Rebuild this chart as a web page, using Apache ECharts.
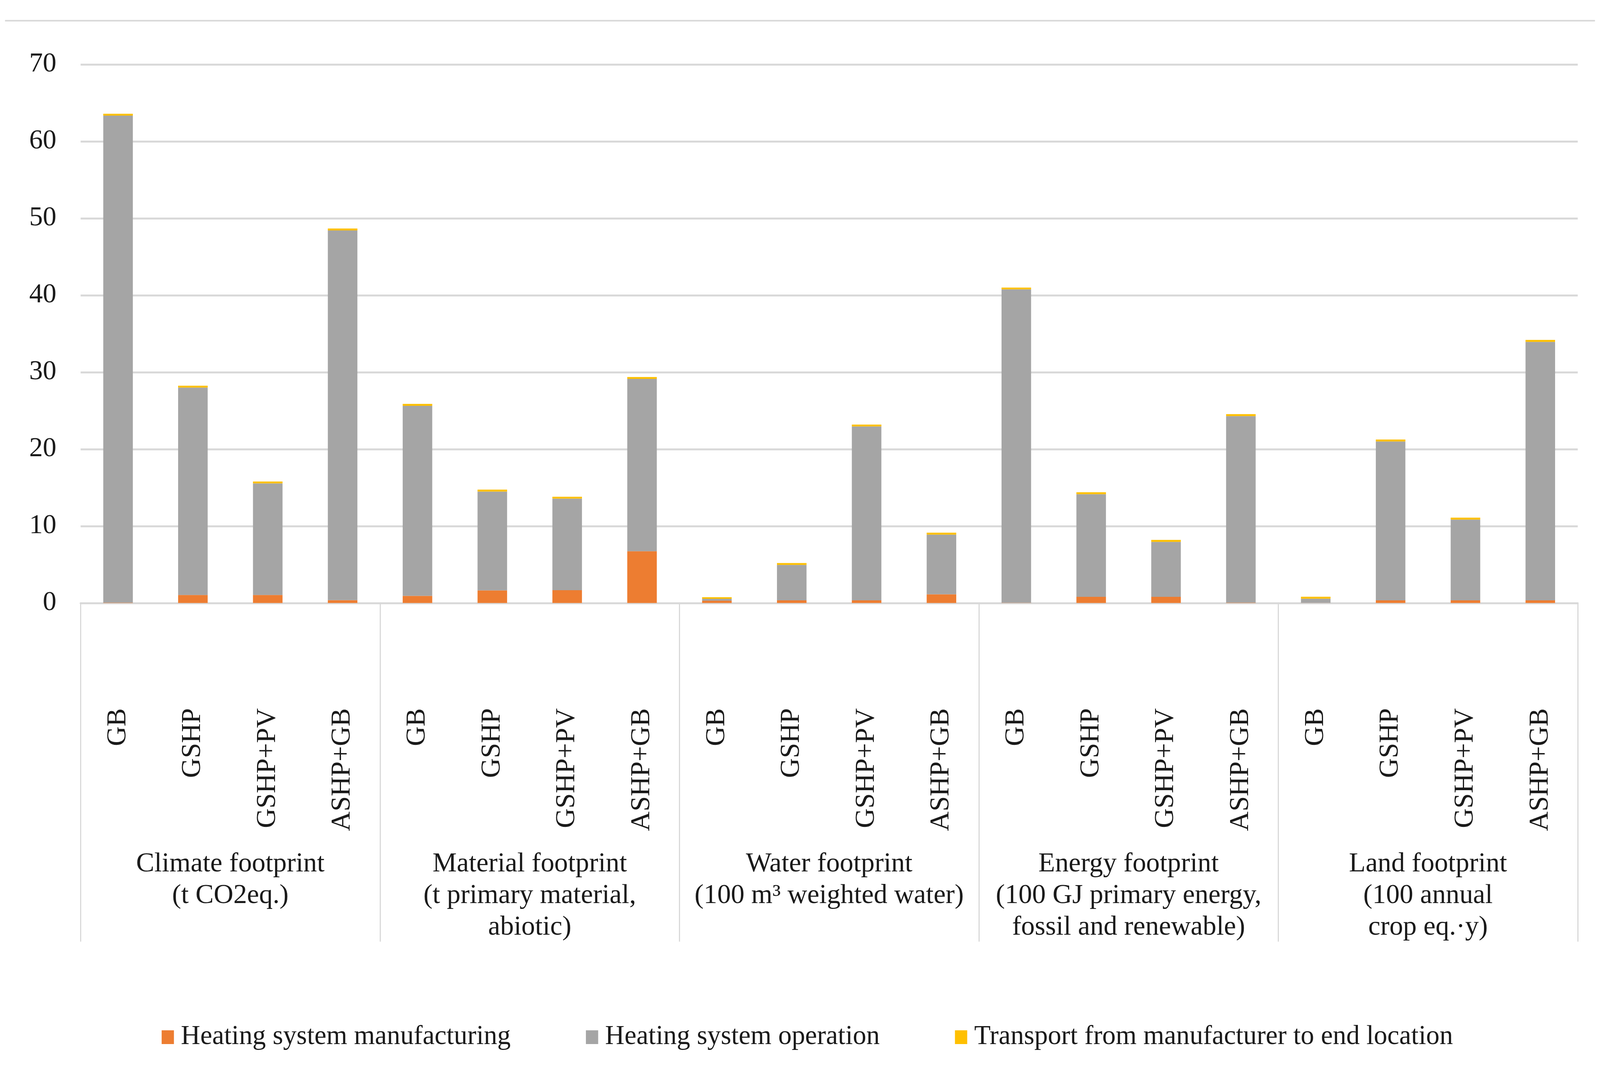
<!DOCTYPE html>
<html>
<head>
<meta charset="utf-8">
<script src="https://cdn.jsdelivr.net/npm/echarts@6/dist/echarts.min.js"></script>
<style>html,body{margin:0;padding:0;background:#fff;overflow:hidden}#c{width:100vw;height:100vh}</style>
</head>
<body>
<div id="c"></div>
<script>
const groups = [
  'Climate footprint\n(t CO2eq.)',
  'Material footprint\n(t primary material,\nabiotic)',
  'Water footprint\n(100 m³ weighted water)',
  'Energy footprint\n(100 GJ primary energy,\nfossil and renewable)',
  'Land footprint\n(100 annual\ncrop eq.·y)'
];
const systems = ['GB', 'GSHP', 'GSHP+PV', 'ASHP+GB'];
const seriesNames = ['Heating system manufacturing', 'Heating system operation', 'Transport from manufacturer to end location'];
// values per bar, ordered group by group (GB, GSHP, GSHP+PV, ASHP+GB)
const manufacturing = [0.05, 1.05, 1.05, 0.38,  0.93, 1.64, 1.67, 6.73,  0.30, 0.35, 0.35, 1.14,  0.03, 0.80, 0.80, 0.05,  0.02, 0.35, 0.35, 0.35];
const operation     = [63.3, 26.95, 14.5, 48.05, 24.7, 12.85, 11.9, 22.4, 0.25, 4.6, 22.6, 7.75, 40.75, 13.35, 7.15, 24.25, 0.55, 20.65, 10.5, 33.6];
const transport     = [0.25, 0.25, 0.25, 0.25,  0.25, 0.25, 0.25, 0.25,  0.20, 0.25, 0.25, 0.25,  0.22, 0.25, 0.25, 0.25,  0.25, 0.25, 0.25, 0.25];
const yTicks = {min: 0, max: 70, interval: 10};

const categories = [];
groups.forEach(() => systems.forEach(s => categories.push(s)));

const FONT = '"Liberation Serif", "Times New Roman", serif';
const TXT = '#1a1a1a';
const colors = ['#ED7D31', '#A5A5A5', '#FFC000'];
const vals = [manufacturing, operation, transport];

const el = document.getElementById('c');
const W = el.clientWidth || 4168;
const s = W / 4168;           // uniform scale: design units are reference pixels
const FS = 71 * s;

const chart = echarts.init(el, null, {renderer: 'canvas'});
chart.setOption({
  animation: false,
  backgroundColor: '#fff',
  textStyle: {fontFamily: FONT},
  grid: {left: 210 * s, right: 58 * s, top: 168 * s, height: (1571 - 168) * s, containLabel: false},
  legend: {
    top: (2697 - 36) * s,
    left: 416 * s,
    icon: 'rect',
    itemWidth: 32 * s,
    itemHeight: 36 * s,
    itemGap: 196 * s,
    data: seriesNames,
    textStyle: {fontFamily: FONT, fontSize: 70 * s, lineHeight: 72 * s, color: TXT, padding: [0, 0, 0, 13 * s]}
  },
  xAxis: [
    {
      type: 'category',
      data: categories,
      axisLine: {show: true, lineStyle: {color: '#D9D9D9', width: 5 * s}},
      axisTick: {show: false},
      axisLabel: {rotate: 90, interval: 0, margin: 274 * s, fontFamily: FONT, fontSize: FS, color: TXT}
    },
    {
      type: 'category',
      data: groups,
      position: 'bottom',
      offset: 0,
      axisLine: {show: false},
      axisTick: {show: true, length: 882 * s, lineStyle: {color: '#D9D9D9', width: 3 * s}},
      axisLabel: {interval: 0, margin: 640 * s, fontFamily: FONT, fontSize: FS, color: TXT, lineHeight: 82 * s, align: 'center', verticalAlign: 'top'}
    }
  ],
  yAxis: {
    type: 'value',
    min: yTicks.min, max: yTicks.max, interval: yTicks.interval,
    axisLine: {show: false},
    axisTick: {show: false},
    splitLine: {lineStyle: {color: '#D9D9D9', width: 5 * s}},
    axisLabel: {margin: 63 * s, fontFamily: FONT, fontSize: FS, color: TXT}
  },
  graphic: [{
    type: 'line', shape: {x1: 13 * s, y1: 54 * s, x2: 4155 * s, y2: 54 * s},
    style: {stroke: '#D9D9D9', lineWidth: 4 * s}, silent: true
  }],
  series: seriesNames.map((n, i) => ({
    name: n,
    type: 'bar',
    stack: 'total',
    xAxisIndex: 0,
    barWidth: 77 * s,
    itemStyle: {color: colors[i]},
    data: vals[i]
  }))
});
</script>
</body>
</html>
